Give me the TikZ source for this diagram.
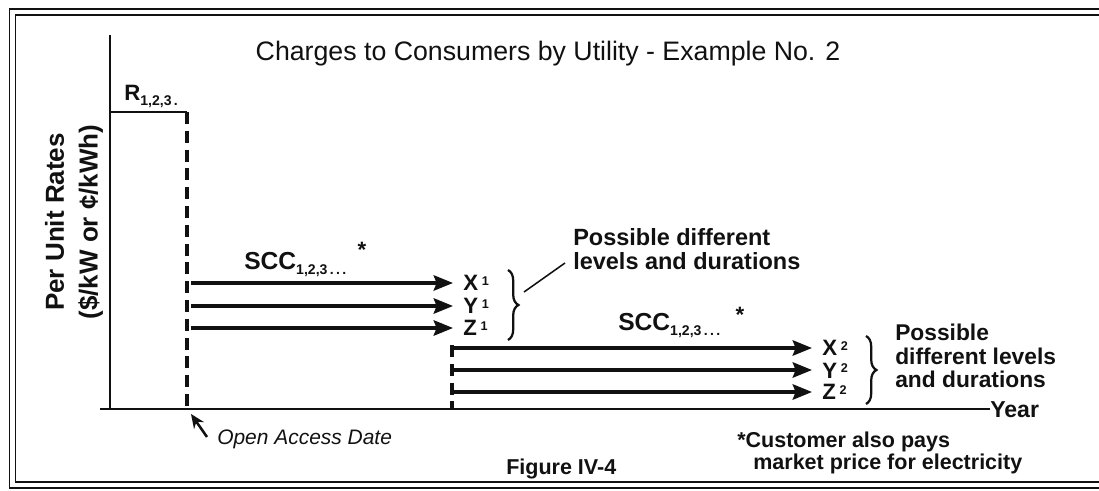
\documentclass[tikz,border=0pt]{standalone}
\usepackage{fontspec}
\setmainfont{Liberation Sans}
\usetikzlibrary{arrows.meta,calc,positioning,decorations.pathreplacing}
\definecolor{Ink}{HTML}{111111}
\newcommand{\idx}[1]{\raisebox{-0.35ex}[0pt][0pt]{\fontsize{10}{10}\selectfont #1}}
\newcommand{\pw}[1]{\,\raisebox{0.45ex}[0pt][0pt]{\fontsize{9}{9}\selectfont #1}}
\tikzset{
  txt/.style={inner sep=0pt, text=Ink},
  axisline/.style={line width=2pt, draw=Ink},
  openline/.style={line width=2.2pt, draw=Ink, dash pattern=on 0.3cm off 0.17cm},
  rate/.style={-{Stealth[length=0.48cm, width=0.38cm, inset=0.07cm]}, line width=2.6pt, draw=Ink},
  grp/.style={decorate, decoration={brace, amplitude=0.26cm}, line width=1.6pt, draw=Ink},
}

\begin{document}
\begin{tikzpicture}[x=0.025cm, y=-0.025cm,
  ttl/.style={txt, font=\fontsize{19}{22}\selectfont},
  blbl/.style={txt, font=\fontsize{16.7}{17}\selectfont\bfseries, align=left},
  note/.style={txt, font=\fontsize{15.3}{14.2}\selectfont\bfseries, align=left},
  letter/.style={txt, font=\fontsize{15.8}{16}\selectfont\bfseries},
]
\clip (0,0) rectangle (1099,491);
% ---------- frame and title
\draw[line width=1.2pt, draw=Ink, double, double distance=0.1cm] (12.5,12) rectangle (1130,485);
\node[ttl, anchor=base] (title) at (548,61) {Charges to Consumers by Utility - Example No. 2};
\node[txt, rotate=90, font=\fontsize{18.5}{24}\selectfont\bfseries, align=center] (ylab) at (74,222)
  {Per Unit Rates\\(\$/kW or ¢/kWh)};
% ---------- axes
\coordinate (ytop) at (110,35);
\coordinate (orig) at (110,409);
\coordinate (xl) at (100,409);
\node[letter, anchor=base west, font=\fontsize{16.4}{16}\selectfont\bfseries] (year) at (990,417) {Year};
\draw[axisline] (ytop) -- (orig);
\draw[axisline] (xl) -- (year.west |- orig);
% ---------- rate before open access
\coordinate (r0) at (110,112);
\coordinate (r1) at (187,112);
\coordinate (oa) at (187,409);
\draw[axisline] (r0) -- (r1);
\draw[openline] (r1) -- (oa);
\node[letter, anchor=base west] (rlab) at (124,101) {R\idx{1,2,3\,.}};
% ---------- first stranded cost charges
\node[letter, anchor=base west, font=\fontsize{17.5}{17}\selectfont\bfseries] (scc1) at (244,270) {SCC\idx{1,2,3\,.\,.\,.}};
\node[letter, anchor=base] (st1) at (362,258) {*};
\foreach \n/\y/\t in {1/283/X,2/306/Y,3/328/Z}{
  \node[letter, anchor=base west] (p\n) at (463,\y+8) {\t\pw{1}};
  \coordinate (s\n) at (191,\y);
  \draw[rate, shorten >=0.25cm] (s\n) -- (s\n -| p\n.west);
}
\coordinate (b1a) at (508,270);
\coordinate (b1b) at (508,340);
\draw[grp] (b1a) -- (b1b);
\node[blbl, anchor=north west] (pos1) at (573,228) {Possible different\\levels and durations};
\coordinate (b1tip) at (524,292);
\coordinate (pos1pt) at (565,263);
\draw[line width=1.1pt, draw=Ink] (b1tip) -- (pos1pt);
% ---------- second stranded cost charges
\coordinate (t0) at (452,345);
\coordinate (t1) at (452,409);
\draw[openline] (t0) -- (t1);
\node[letter, anchor=base west, font=\fontsize{17.5}{17}\selectfont\bfseries] (scc2) at (618,331) {SCC\idx{1,2,3\,.\,.\,.}};
\node[letter, anchor=base] (st2) at (740,323) {*};
\foreach \n/\y/\t in {1/348/X,2/370/Y,3/392/Z}{
  \node[letter, anchor=base west] (q\n) at (822,\y+8) {\t\pw{2}};
  \coordinate (u\n) at (454,\y);
  \draw[rate, shorten >=0.25cm] (u\n) -- (u\n -| q\n.west);
}
\coordinate (b2a) at (866,336);
\coordinate (b2b) at (866,404);
\draw[grp] (b2a) -- (b2b);
\node[blbl, anchor=north west, font=\fontsize{16.2}{16.6}\selectfont\bfseries] (pos2) at (895,324) {Possible\\different levels\\and durations};
% ---------- notes
\node[txt, anchor=base west, font=\fontsize{14.9}{15}\selectfont\itshape] (oad) at (217,444) {Open Access Date};
\coordinate (oadtail) at (207,437);
\coordinate (oadpt) at (191,414);
\draw[-{Stealth[length=0.35cm, width=0.3cm]}, line width=1.8pt, draw=Ink] (oadtail) -- (oadpt);
\node[note, anchor=base west] (fig) at (506,474) {Figure IV-4};
\node[note, anchor=north west] (cust) at (737,432) {*Customer also pays\\\hspace*{0.4cm}market price for electricity};
\end{tikzpicture}
\end{document}
